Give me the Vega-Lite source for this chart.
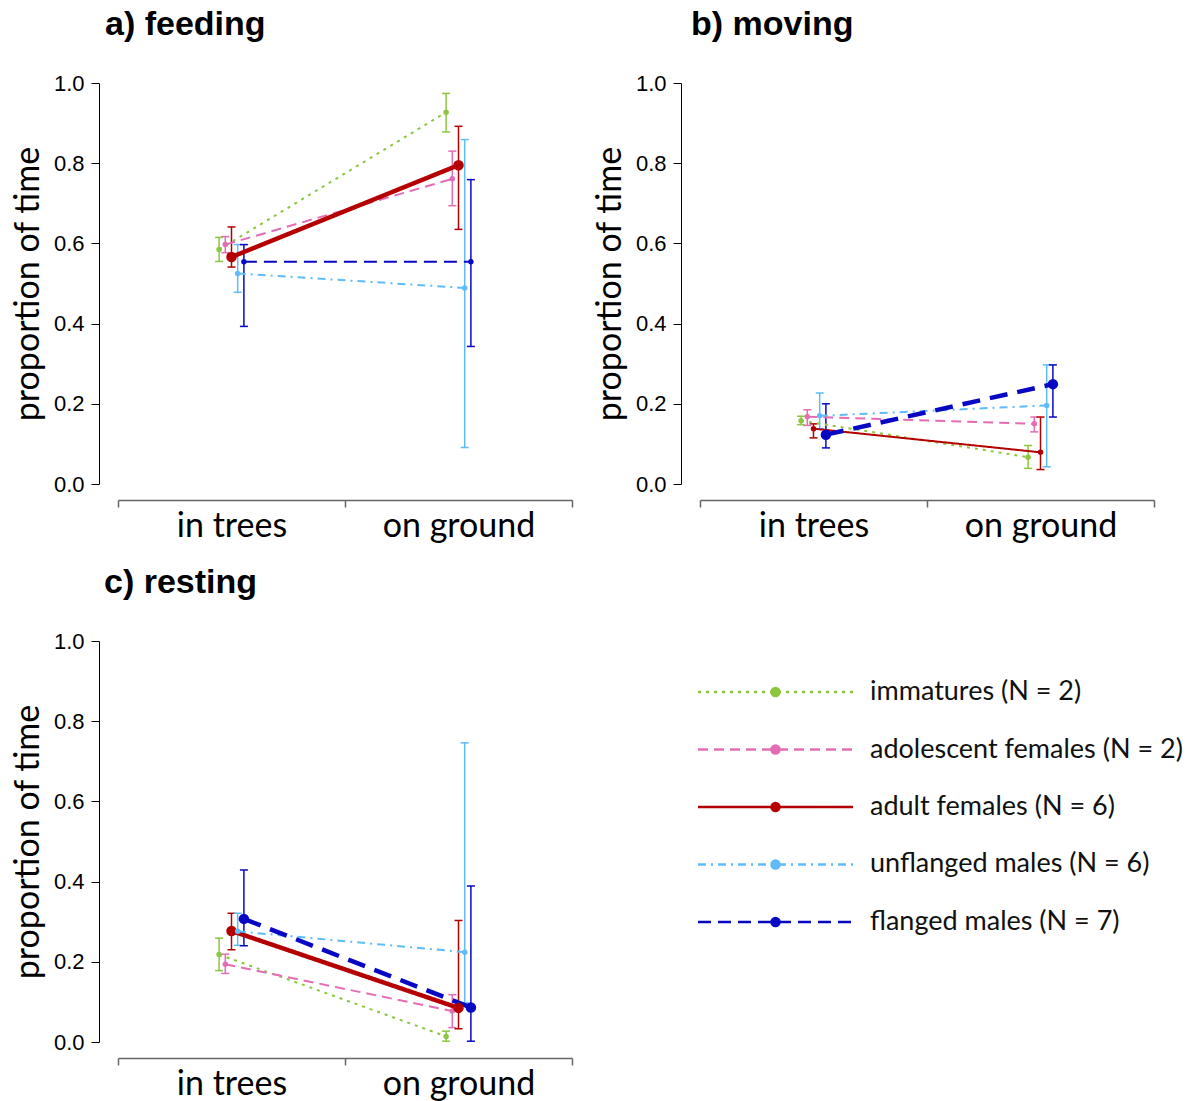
{
  "$schema": "https://vega.github.io/schema/vega-lite/v6.json",
  "padding": {"left": 11, "top": 8, "right": 0, "bottom": 0},
  "background": "white",
  "datasets": {
    "obs": [
      {"panel": "feeding", "location": "in trees", "group": "immatures", "mean": 0.585, "lo": 0.555, "hi": 0.615},
      {"panel": "feeding", "location": "in trees", "group": "adolescent females", "mean": 0.597, "lo": 0.577, "hi": 0.617},
      {"panel": "feeding", "location": "in trees", "group": "adult females", "mean": 0.566, "lo": 0.541, "hi": 0.641},
      {"panel": "feeding", "location": "in trees", "group": "unflanged males", "mean": 0.525, "lo": 0.478, "hi": 0.597},
      {"panel": "feeding", "location": "in trees", "group": "flanged males", "mean": 0.554, "lo": 0.393, "hi": 0.597},
      {"panel": "feeding", "location": "on ground", "group": "immatures", "mean": 0.927, "lo": 0.878, "hi": 0.974},
      {"panel": "feeding", "location": "on ground", "group": "adolescent females", "mean": 0.761, "lo": 0.694, "hi": 0.83},
      {"panel": "feeding", "location": "on ground", "group": "adult females", "mean": 0.795, "lo": 0.635, "hi": 0.892},
      {"panel": "feeding", "location": "on ground", "group": "unflanged males", "mean": 0.489, "lo": 0.091, "hi": 0.859},
      {"panel": "feeding", "location": "on ground", "group": "flanged males", "mean": 0.554, "lo": 0.343, "hi": 0.759},
      {"panel": "moving", "location": "in trees", "group": "immatures", "mean": 0.158, "lo": 0.148, "hi": 0.169},
      {"panel": "moving", "location": "in trees", "group": "adolescent females", "mean": 0.168, "lo": 0.146, "hi": 0.185},
      {"panel": "moving", "location": "in trees", "group": "adult females", "mean": 0.138, "lo": 0.115, "hi": 0.15},
      {"panel": "moving", "location": "in trees", "group": "unflanged males", "mean": 0.17, "lo": 0.138, "hi": 0.227},
      {"panel": "moving", "location": "in trees", "group": "flanged males", "mean": 0.123, "lo": 0.09, "hi": 0.2},
      {"panel": "moving", "location": "on ground", "group": "immatures", "mean": 0.067, "lo": 0.039, "hi": 0.096},
      {"panel": "moving", "location": "on ground", "group": "adolescent females", "mean": 0.15, "lo": 0.13, "hi": 0.167},
      {"panel": "moving", "location": "on ground", "group": "adult females", "mean": 0.079, "lo": 0.036, "hi": 0.167},
      {"panel": "moving", "location": "on ground", "group": "unflanged males", "mean": 0.196, "lo": 0.043, "hi": 0.297},
      {"panel": "moving", "location": "on ground", "group": "flanged males", "mean": 0.249, "lo": 0.167, "hi": 0.297},
      {"panel": "resting", "location": "in trees", "group": "immatures", "mean": 0.218, "lo": 0.178, "hi": 0.259},
      {"panel": "resting", "location": "in trees", "group": "adolescent females", "mean": 0.194, "lo": 0.171, "hi": 0.219},
      {"panel": "resting", "location": "in trees", "group": "adult females", "mean": 0.277, "lo": 0.23, "hi": 0.321},
      {"panel": "resting", "location": "in trees", "group": "unflanged males", "mean": 0.276, "lo": 0.241, "hi": 0.321},
      {"panel": "resting", "location": "in trees", "group": "flanged males", "mean": 0.307, "lo": 0.24, "hi": 0.429},
      {"panel": "resting", "location": "on ground", "group": "immatures", "mean": 0.014, "lo": 0.002, "hi": 0.027},
      {"panel": "resting", "location": "on ground", "group": "adolescent females", "mean": 0.077, "lo": 0.036, "hi": 0.118},
      {"panel": "resting", "location": "on ground", "group": "adult females", "mean": 0.085, "lo": 0.033, "hi": 0.303},
      {"panel": "resting", "location": "on ground", "group": "unflanged males", "mean": 0.224, "lo": 0.098, "hi": 0.746},
      {"panel": "resting", "location": "on ground", "group": "flanged males", "mean": 0.086, "lo": 0.002, "hi": 0.389}
    ],
    "groups": [
      {"group": "immatures", "label": "immatures (N = 2)"},
      {"group": "adolescent females", "label": "adolescent females (N = 2)"},
      {"group": "adult females", "label": "adult females (N = 6)"},
      {"group": "unflanged males", "label": "unflanged males (N = 6)"},
      {"group": "flanged males", "label": "flanged males (N = 7)"}
    ]
  },
  "spacing": 23,
  "vconcat": [
    {
      "spacing": 20,
      "hconcat": [
        {
          "width": 454, "height": 401,
          "title": {"text": "a) feeding", "anchor": "start", "frame": "group", "dx": -13, "offset": 30, "fontSize": 34, "font": "Liberation Sans", "fontWeight": "bold", "color": "black"},
          "data": {"name": "obs"},
          "transform": [{"filter": "datum.panel === 'feeding'"}],
          "encoding": {
            "x": {"field": "location", "type": "nominal", "title": null, "scale": {"domain": ["in trees", "on ground"], "paddingInner": 0, "paddingOuter": 0}, "axis": {"tickBand": "extent", "labelAngle": 0}},
            "xOffset": {"field": "group", "type": "nominal", "scale": {"type": "point", "domain": ["immatures", "adolescent females", "adult females", "unflanged males", "flanged males"], "range": [98, 129]}},
            "color": {"field": "group", "type": "nominal", "legend": null, "scale": {"domain": ["immatures", "adolescent females", "adult females", "unflanged males", "flanged males"], "range": ["#8CC63F", "#E36CB4", "#B40000", "#5EBCFA", "#0808C4"]}}
          },
          "layer": [
            {"mark": {"type": "rule", "strokeWidth": 1.5}, "encoding": {"y": {"field": "lo", "type": "quantitative", "title": "proportion of time", "scale": {"domain": [0, 1], "nice": false}, "axis": {"values": [0, 0.2, 0.4, 0.6, 0.8, 1], "format": ".1f"}}, "y2": {"field": "hi"}}},
            {"mark": {"type": "point", "shape": "stroke", "filled": false, "strokeWidth": 1.5, "size": 64, "opacity": 1}, "encoding": {"y": {"field": "hi", "type": "quantitative", "title": "proportion of time", "scale": {"domain": [0, 1], "nice": false}, "axis": {"values": [0, 0.2, 0.4, 0.6, 0.8, 1], "format": ".1f"}}}},
            {"mark": {"type": "point", "shape": "stroke", "filled": false, "strokeWidth": 1.5, "size": 64, "opacity": 1}, "encoding": {"y": {"field": "lo", "type": "quantitative", "title": "proportion of time", "scale": {"domain": [0, 1], "nice": false}, "axis": {"values": [0, 0.2, 0.4, 0.6, 0.8, 1], "format": ".1f"}}}},
            {"mark": {"type": "line"}, "encoding": {
              "y": {"field": "mean", "type": "quantitative", "title": "proportion of time", "scale": {"domain": [0, 1], "nice": false}, "axis": {"values": [0, 0.2, 0.4, 0.6, 0.8, 1], "format": ".1f"}},
              "strokeDash": {"field": "group", "type": "nominal", "legend": null, "scale": {"domain": ["immatures", "adolescent females", "adult females", "unflanged males", "flanged males"], "range": [[3, 5], [10, 6], [1, 0], [8, 5, 2, 5], [13, 7]]}},
              "strokeWidth": {"condition": {"test": "datum.group === 'adult females'", "value": 4.5}, "value": 2}
            }},
            {"mark": {"type": "point", "filled": true, "opacity": 1}, "encoding": {
              "y": {"field": "mean", "type": "quantitative", "title": "proportion of time", "scale": {"domain": [0, 1], "nice": false}, "axis": {"values": [0, 0.2, 0.4, 0.6, 0.8, 1], "format": ".1f"}},
              "size": {"condition": {"test": "datum.group === 'adult females'", "value": 110}, "value": 30}
            }}
          ]
        },
        {
          "width": 454, "height": 401,
          "title": {"text": "b) moving", "anchor": "start", "frame": "group", "dx": -9, "offset": 30, "fontSize": 34, "font": "Liberation Sans", "fontWeight": "bold", "color": "black"},
          "data": {"name": "obs"},
          "transform": [{"filter": "datum.panel === 'moving'"}],
          "encoding": {
            "x": {"field": "location", "type": "nominal", "title": null, "scale": {"domain": ["in trees", "on ground"], "paddingInner": 0, "paddingOuter": 0}, "axis": {"tickBand": "extent", "labelAngle": 0}},
            "xOffset": {"field": "group", "type": "nominal", "scale": {"type": "point", "domain": ["immatures", "adolescent females", "adult females", "unflanged males", "flanged males"], "range": [98, 129]}},
            "color": {"field": "group", "type": "nominal", "legend": null, "scale": {"domain": ["immatures", "adolescent females", "adult females", "unflanged males", "flanged males"], "range": ["#8CC63F", "#E36CB4", "#B40000", "#5EBCFA", "#0808C4"]}}
          },
          "layer": [
            {"mark": {"type": "rule", "strokeWidth": 1.5}, "encoding": {"y": {"field": "lo", "type": "quantitative", "title": "proportion of time", "scale": {"domain": [0, 1], "nice": false}, "axis": {"values": [0, 0.2, 0.4, 0.6, 0.8, 1], "format": ".1f"}}, "y2": {"field": "hi"}}},
            {"mark": {"type": "point", "shape": "stroke", "filled": false, "strokeWidth": 1.5, "size": 64, "opacity": 1}, "encoding": {"y": {"field": "hi", "type": "quantitative", "title": "proportion of time", "scale": {"domain": [0, 1], "nice": false}, "axis": {"values": [0, 0.2, 0.4, 0.6, 0.8, 1], "format": ".1f"}}}},
            {"mark": {"type": "point", "shape": "stroke", "filled": false, "strokeWidth": 1.5, "size": 64, "opacity": 1}, "encoding": {"y": {"field": "lo", "type": "quantitative", "title": "proportion of time", "scale": {"domain": [0, 1], "nice": false}, "axis": {"values": [0, 0.2, 0.4, 0.6, 0.8, 1], "format": ".1f"}}}},
            {"mark": {"type": "line"}, "encoding": {
              "y": {"field": "mean", "type": "quantitative", "title": "proportion of time", "scale": {"domain": [0, 1], "nice": false}, "axis": {"values": [0, 0.2, 0.4, 0.6, 0.8, 1], "format": ".1f"}},
              "strokeDash": {"field": "group", "type": "nominal", "legend": null, "scale": {"domain": ["immatures", "adolescent females", "adult females", "unflanged males", "flanged males"], "range": [[3, 5], [10, 6], [1, 0], [8, 5, 2, 5], [13, 7]]}, "condition": {"test": "datum.group === 'flanged males'", "value": [18, 10]}},
              "strokeWidth": {"condition": {"test": "datum.group === 'flanged males'", "value": 4.5}, "value": 2}
            }},
            {"mark": {"type": "point", "filled": true, "opacity": 1}, "encoding": {
              "y": {"field": "mean", "type": "quantitative", "title": "proportion of time", "scale": {"domain": [0, 1], "nice": false}, "axis": {"values": [0, 0.2, 0.4, 0.6, 0.8, 1], "format": ".1f"}},
              "size": {"condition": {"test": "datum.group === 'flanged males'", "value": 110}, "value": 30}
            }}
          ]
        }
      ]
    },
    {
      "spacing": 123,
      "hconcat": [
        {
          "width": 454, "height": 401,
          "title": {"text": "c) resting", "anchor": "start", "frame": "group", "dx": -14, "offset": 30, "fontSize": 34, "font": "Liberation Sans", "fontWeight": "bold", "color": "black"},
          "data": {"name": "obs"},
          "transform": [{"filter": "datum.panel === 'resting'"}],
          "encoding": {
            "x": {"field": "location", "type": "nominal", "title": null, "scale": {"domain": ["in trees", "on ground"], "paddingInner": 0, "paddingOuter": 0}, "axis": {"tickBand": "extent", "labelAngle": 0}},
            "xOffset": {"field": "group", "type": "nominal", "scale": {"type": "point", "domain": ["immatures", "adolescent females", "adult females", "unflanged males", "flanged males"], "range": [98, 129]}},
            "color": {"field": "group", "type": "nominal", "legend": null, "scale": {"domain": ["immatures", "adolescent females", "adult females", "unflanged males", "flanged males"], "range": ["#8CC63F", "#E36CB4", "#B40000", "#5EBCFA", "#0808C4"]}}
          },
          "layer": [
            {"mark": {"type": "rule", "strokeWidth": 1.5}, "encoding": {"y": {"field": "lo", "type": "quantitative", "title": "proportion of time", "scale": {"domain": [0, 1], "nice": false}, "axis": {"values": [0, 0.2, 0.4, 0.6, 0.8, 1], "format": ".1f"}}, "y2": {"field": "hi"}}},
            {"mark": {"type": "point", "shape": "stroke", "filled": false, "strokeWidth": 1.5, "size": 64, "opacity": 1}, "encoding": {"y": {"field": "hi", "type": "quantitative", "title": "proportion of time", "scale": {"domain": [0, 1], "nice": false}, "axis": {"values": [0, 0.2, 0.4, 0.6, 0.8, 1], "format": ".1f"}}}},
            {"mark": {"type": "point", "shape": "stroke", "filled": false, "strokeWidth": 1.5, "size": 64, "opacity": 1}, "encoding": {"y": {"field": "lo", "type": "quantitative", "title": "proportion of time", "scale": {"domain": [0, 1], "nice": false}, "axis": {"values": [0, 0.2, 0.4, 0.6, 0.8, 1], "format": ".1f"}}}},
            {"mark": {"type": "line"}, "encoding": {
              "y": {"field": "mean", "type": "quantitative", "title": "proportion of time", "scale": {"domain": [0, 1], "nice": false}, "axis": {"values": [0, 0.2, 0.4, 0.6, 0.8, 1], "format": ".1f"}},
              "strokeDash": {"field": "group", "type": "nominal", "legend": null, "scale": {"domain": ["immatures", "adolescent females", "adult females", "unflanged males", "flanged males"], "range": [[3, 5], [10, 6], [1, 0], [8, 5, 2, 5], [13, 7]]}, "condition": {"test": "datum.group === 'flanged males'", "value": [18, 10]}},
              "strokeWidth": {"condition": {"test": "datum.group === 'adult females' || datum.group === 'flanged males'", "value": 4.5}, "value": 2}
            }},
            {"mark": {"type": "point", "filled": true, "opacity": 1}, "encoding": {
              "y": {"field": "mean", "type": "quantitative", "title": "proportion of time", "scale": {"domain": [0, 1], "nice": false}, "axis": {"values": [0, 0.2, 0.4, 0.6, 0.8, 1], "format": ".1f"}},
              "size": {"condition": {"test": "datum.group === 'adult females' || datum.group === 'flanged males'", "value": 110}, "value": 30}
            }}
          ]
        },
        {
          "width": 500, "height": 332,
          "data": {"name": "groups"},
          "encoding": {
            "y": {"field": "group", "type": "nominal", "axis": null, "scale": {"type": "point", "domain": ["immatures", "adolescent females", "adult females", "unflanged males", "flanged males"], "padding": 0.887}},
            "color": {"field": "group", "type": "nominal", "legend": null, "scale": {"domain": ["immatures", "adolescent females", "adult females", "unflanged males", "flanged males"], "range": ["#8CC63F", "#E36CB4", "#B40000", "#5EBCFA", "#0808C4"]}}
          },
          "layer": [
            {"mark": {"type": "rule", "strokeWidth": 2.5}, "encoding": {
              "x": {"datum": 0, "type": "quantitative", "axis": null, "scale": {"domain": [0, 100], "nice": false, "zero": false}},
              "x2": {"datum": 31},
              "strokeDash": {"field": "group", "type": "nominal", "legend": null, "scale": {"domain": ["immatures", "adolescent females", "adult females", "unflanged males", "flanged males"], "range": [[3, 5], [10, 6], [1, 0], [8, 5, 2, 5], [13, 7]]}}
            }},
            {"mark": {"type": "point", "filled": true, "opacity": 1, "size": 110}, "encoding": {
              "x": {"datum": 15.5, "type": "quantitative", "axis": null}
            }},
            {"mark": {"type": "text", "align": "left", "baseline": "middle", "font": "Lato", "fontSize": 27}, "encoding": {
              "x": {"datum": 34.4, "type": "quantitative", "axis": null},
              "text": {"field": "label"},
              "color": {"value": "#111111"}
            }}
          ]
        }
      ]
    }
  ],
  "config": {
    "view": {"stroke": null},
    "axis": {"grid": false},
    "axisX": {"labelFont": "Lato", "labelFontSize": 34, "labelColor": "black", "domainColor": "#666666", "domainWidth": 1.5, "tickColor": "#666666", "tickWidth": 1.5, "tickSize": 7, "offset": 16, "labelPadding": 2},
    "axisY": {"labelFont": "Liberation Sans", "labelFontSize": 22, "labelColor": "black", "domainColor": "black", "tickColor": "black", "tickSize": 8, "labelPadding": 7, "offset": 19, "titleFont": "Lato", "titleFontSize": 34, "titleFontWeight": "normal", "titleColor": "black", "titlePadding": 8}
  }
}
